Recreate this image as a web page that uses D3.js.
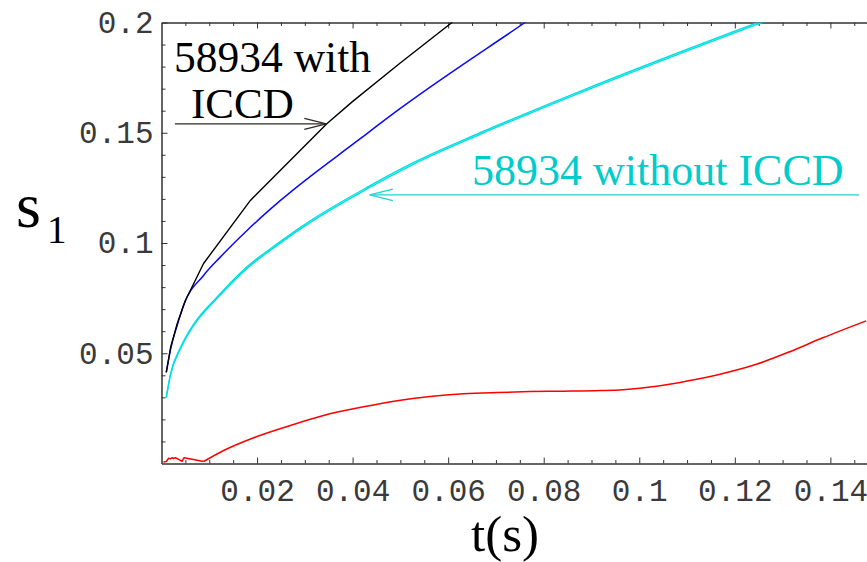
<!DOCTYPE html>
<html>
<head>
<meta charset="utf-8">
<script src="https://cdn.jsdelivr.net/npm/d3@7/dist/d3.min.js"></script>
<style>
  html, body { margin: 0; padding: 0; background: #fff; }
  svg { display: block; }
  .tick text { font-family: "Liberation Mono", "Courier New", monospace; }
  .serif { font-family: "Liberation Serif", "DejaVu Serif", serif; }
</style>
</head>
<body>
<svg id="chart" width="867" height="562"></svg>
<script>
// ---------- data (t in s, s1) ----------
const withICCD = [ // black
  [0.0010,0.0413],[0.0019,0.0526],[0.0033,0.0635],[0.0050,0.0739],[0.0088,0.0907],
  [0.0186,0.1193],[0.0346,0.1541],[0.0399,0.1640],[0.0499,0.1815],[0.0608,0.2000],
  [0.0640,0.2053]
];
const blueSeries = [
  [0.0010,0.0413],[0.0020,0.0528],[0.0033,0.0628],[0.0047,0.0722],[0.0088,0.0853],
  [0.0123,0.0936],[0.0179,0.1057],[0.0249,0.1193],[0.0416,0.1473],[0.0499,0.1609],
  [0.0761,0.2000],[0.0790,0.2043]
];
const withoutICCD_a = [ // cyan, upper
  [0.0010,0.0301],[0.0019,0.0408],[0.0040,0.0527],[0.0068,0.0634],[0.0116,0.0754],
  [0.0179,0.0892],[0.0242,0.0996],[0.0290,0.1070],[0.0318,0.1110],[0.0430,0.1252],
  [0.0527,0.1364],[0.0667,0.1500],[0.0876,0.1688],[0.1248,0.2000],[0.1280,0.2026]
];
const withoutICCD_b = [ // cyan, lower
  [0.0010,0.0298],[0.0019,0.0403],[0.0040,0.0521],[0.0068,0.0628],[0.0116,0.0748],
  [0.0179,0.0885],[0.0242,0.0989],[0.0290,0.1063],[0.0318,0.1103],[0.0430,0.1245],
  [0.0527,0.1357],[0.0667,0.1493],[0.0876,0.1681],[0.1248,0.1993],[0.1280,0.2019]
];
const redStart = [ // noisy beginning of red curve
  [0.0004,0.0007],[0.0010,0.0009],[0.0015,0.0024],[0.0019,0.0022],[0.0022,0.0026],
  [0.0026,0.0023],[0.0029,0.0026],[0.0033,0.0022],[0.0043,0.0010],[0.0047,0.0026],
  [0.0061,0.0020],[0.0088,0.0009]
];
const redSmooth = [
  [0.0088,0.0009],[0.0130,0.0059],[0.0193,0.0117],[0.0263,0.0168],
  [0.0339,0.0218],[0.0423,0.0257],[0.0493,0.0285],[0.0562,0.0304],[0.0632,0.0316],
  [0.0702,0.0322],[0.0771,0.0326],[0.0841,0.0328],[0.0917,0.0331],[0.0966,0.0335],
  [0.1036,0.0350],[0.1106,0.0376],[0.1175,0.0408],[0.1245,0.0450],[0.1315,0.0507],
  [0.1384,0.0570],[0.1475,0.0647]
];
const xMajorTicks = [0.02,0.04,0.06,0.08,0.1,0.12,0.14];
const xTickLabels = ["0.02","0.04","0.06","0.08","0.1","0.12","0.14"];
const xMinorTicks = [0.005,0.01,0.015,0.025,0.03,0.035,0.045,0.05,0.055,0.065,0.07,0.075,
                     0.085,0.09,0.095,0.105,0.11,0.115,0.125,0.13,0.135,0.145];
const yMajorTicks = [0.05,0.1,0.15,0.2];
const yTickLabels = ["0.05","0.1","0.15","0.2"];
const yMinorTicks = [0.01,0.02,0.03,0.04,0.06,0.07,0.08,0.09,0.11,0.12,0.13,0.14,
                     0.16,0.17,0.18,0.19];
const seriesColors = { black: "#000000", blue: "#0a0aff", cyan: "#00e0e0", red: "#ff0000" };

// ---------- scales ----------
const svg = d3.select("#chart");
const x = d3.scaleLinear().domain([0, 0.148]).range([161.5, 868.6]);
const y = d3.scaleLinear().domain([0, 0.2]).range([463.5, 22.5]);

svg.append("defs").append("clipPath").attr("id","plotclip")
  .append("rect").attr("x", x(0)).attr("y", y(0.2)).attr("width", x(0.148)-x(0)).attr("height", y(0)-y(0.2));

// ---------- axes ----------
const axisColor = "#333";
function styleAxis(g){
  g.selectAll("path.domain").attr("stroke", axisColor).attr("stroke-width", 1);
  g.selectAll(".tick line").attr("stroke", axisColor).attr("stroke-width", 1);
}
const gB = svg.append("g").attr("transform", `translate(0,${y(0)})`)
  .call(d3.axisBottom(x).tickValues(xMajorTicks).tickSizeInner(-6).tickSizeOuter(0).tickPadding(15)
        .tickFormat((d,i)=>xTickLabels[i]));
gB.selectAll("text").attr("font-size", 31).attr("fill", "#3a3a3a");
styleAxis(gB);
const gBm = svg.append("g").attr("transform", `translate(0,${y(0)})`)
  .call(d3.axisBottom(x).tickValues(xMinorTicks).tickSizeInner(-3.5).tickSizeOuter(0).tickFormat(""));
styleAxis(gBm);
const gT = svg.append("g").attr("transform", `translate(0,${y(0.2)})`)
  .call(d3.axisTop(x).tickValues(xMajorTicks).tickSizeInner(-6).tickSizeOuter(0).tickFormat(""));
styleAxis(gT);
const gTm = svg.append("g").attr("transform", `translate(0,${y(0.2)})`)
  .call(d3.axisTop(x).tickValues(xMinorTicks).tickSizeInner(-3.5).tickSizeOuter(0).tickFormat(""));
styleAxis(gTm);
const gL = svg.append("g").attr("transform", `translate(${x(0)},0)`)
  .call(d3.axisLeft(y).tickValues(yMajorTicks).tickSizeInner(-6).tickSizeOuter(0).tickPadding(8)
        .tickFormat((d,i)=>yTickLabels[i]));
gL.selectAll("text").attr("font-size", 31).attr("fill", "#3a3a3a");
styleAxis(gL);
const gLm = svg.append("g").attr("transform", `translate(${x(0)},0)`)
  .call(d3.axisLeft(y).tickValues(yMinorTicks).tickSizeInner(-4).tickSizeOuter(0).tickFormat(""));
styleAxis(gLm);

// ---------- lines ----------
const smooth = d3.line().x(d=>x(d[0])).y(d=>y(d[1])).curve(d3.curveMonotoneX);
const straight = d3.line().x(d=>x(d[0])).y(d=>y(d[1]));
const plot = svg.append("g").attr("clip-path","url(#plotclip)");
function draw(data, gen, color, w){
  plot.append("path").datum(data).attr("d", gen).attr("fill","none")
    .attr("stroke", color).attr("stroke-width", w).attr("stroke-linejoin","round");
}
draw(redStart, straight, seriesColors.red, 1.5);
draw(redSmooth, smooth, seriesColors.red, 1.5);
draw(withoutICCD_b, smooth, seriesColors.cyan, 1.4);
draw(withoutICCD_a, smooth, seriesColors.cyan, 1.4);
draw(blueSeries, smooth, seriesColors.blue, 1.5);
draw(withICCD, straight, seriesColors.black, 1.4);

// ---------- annotations ----------
function arrow(x0, x1, yy, color, headLen, headHalf){
  const g = svg.append("g").attr("stroke", color).attr("fill","none").attr("stroke-width",1.3);
  g.append("line").attr("x1", x0).attr("y1", yy).attr("x2", x1).attr("y2", yy);
  const dir = x1 > x0 ? -1 : 1;
  g.append("path").attr("d", `M${x1+dir*headLen},${yy-headHalf} L${x1},${yy} L${x1+dir*headLen},${yy+headHalf}`);
}
function label(tx, ty, size, color, str, anchor){
  svg.append("text").attr("class","serif").attr("x", tx).attr("y", ty)
    .attr("font-size", size).attr("fill", color).attr("text-anchor", anchor || "start").text(str);
}
label(174, 72, 43.5, "#000", "58934 with");
label(191, 118, 43, "#000", "ICCD");
arrow(x(0.0028), x(0.0345), y(0.1540), "#2e2a26", 22, 5.5);

label(472, 185, 44, "#00cccc", "58934 without ICCD");
arrow(x(0.1460), x(0.0436), y(0.1218), "#22d2d2", 23, 5.7);

label(16, 227, 64, "#000", "s");
label(47, 243, 39, "#000", "1");
label(505, 551, 51, "#000", "t(s)", "middle");
</script>
</body>
</html>
